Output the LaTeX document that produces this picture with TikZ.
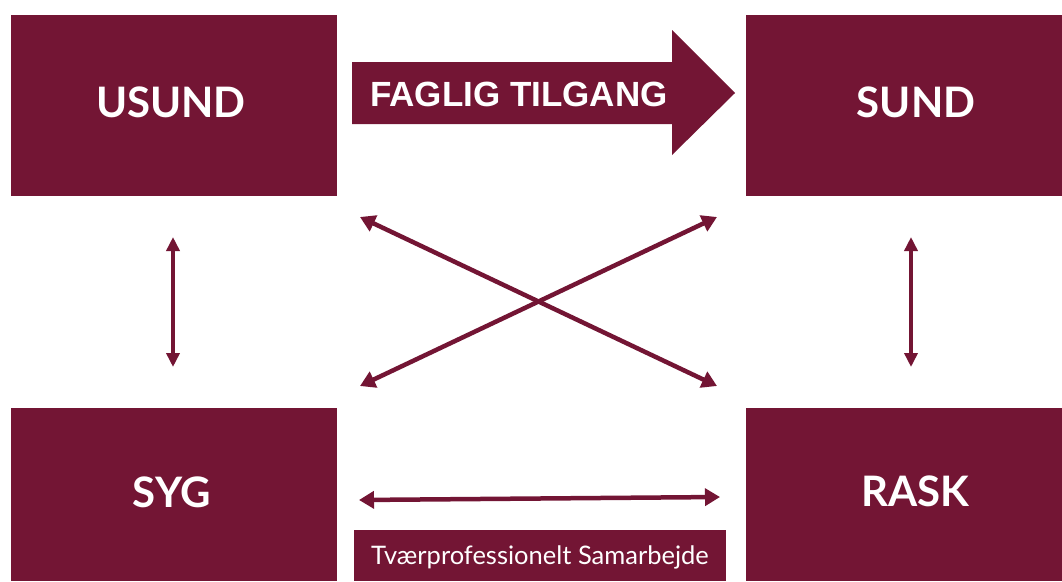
\documentclass[tikz,border=0pt]{standalone}
\usepackage{fontspec}
\setmainfont{Lato}
\newfontfamily\arialfont{Liberation Sans}
\usetikzlibrary{arrows.meta}
\definecolor{wine}{RGB}{115,21,52}
\tikzset{
  lbl/.style={text=white, font=\bfseries\fontsize{42}{44}\selectfont, inner sep=0pt},
  conn/.style={draw=wine, line width=4.5pt, {Triangle[length=15pt,width=17pt]}-{Triangle[length=15pt,width=17pt]}},
  vconn/.style={draw=wine, line width=3.5pt, {Triangle[length=14pt,width=13pt]}-{Triangle[length=14pt,width=13pt]}}
}
\begin{document}
\begin{tikzpicture}[x=1pt,y=-1pt]
\useasboundingbox (0,0) rectangle (1062,581);
% boxes
\fill[wine] (11,15) rectangle (337,196);
\fill[wine] (746,15) rectangle (1062,196);
\fill[wine] (11,408) rectangle (337,581);
\fill[wine] (746,408) rectangle (1062,581);
\fill[wine] (354,530) rectangle (726,581);
\node[lbl] (usund) at (171,102) {USUND};
\node[lbl] (sund) at (916,102) {SUND};
\node[lbl] (syg) at (172,492) {SYG};
\node[lbl] (rask) at (915,491) {RASK};
\node[text=white, inner sep=0pt, font=\fontsize{25.5}{27}\selectfont] (tvaer) at (540,557) {Tværprofessionelt Samarbejde};
% fat arrow
\fill[wine] (352,62) -- (672,62) -- (672,30) -- (735,93) -- (672,155) -- (672,124) -- (352,124) -- cycle;
\node[text=white, inner sep=0pt, font=\arialfont\bfseries\fontsize{35}{37}\selectfont] (faglig) at (519,94) {FAGLIG TILGANG};
% connector endpoints
\coordinate (a1) at (360,217);
\coordinate (a2) at (717,386);
\coordinate (b1) at (717,217);
\coordinate (b2) at (360,386);
\coordinate (l1) at (173,237);
\coordinate (l2) at (173,367);
\coordinate (r1) at (911,237);
\coordinate (r2) at (911,367);
\coordinate (h1) at (359,500);
\coordinate (h2) at (720,497);
\draw[conn] (a1) -- (a2);
\draw[conn] (b1) -- (b2);
\draw[vconn] (l1) -- (l2);
\draw[vconn] (r1) -- (r2);
\draw[conn] (h1) -- (h2);
\end{tikzpicture}
\end{document}
